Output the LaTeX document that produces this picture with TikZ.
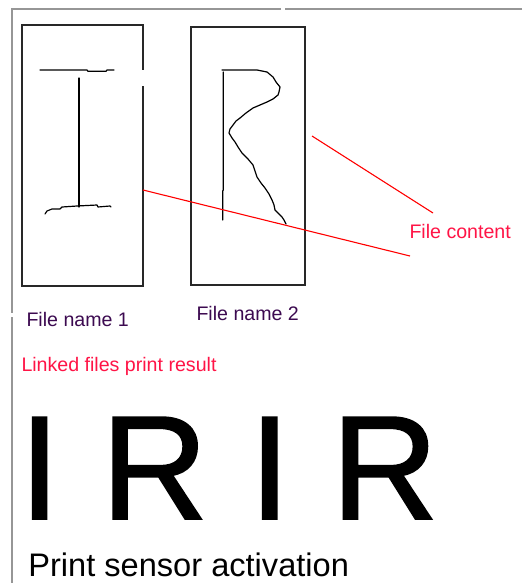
\documentclass[tikz,border=0pt]{standalone}
\usepackage{fontspec}
\setmainfont{Liberation Sans}
\newfontfamily\bigletters[FakeBold=1.2]{Liberation Sans}
\definecolor{framegray}{RGB}{150,150,150}
\definecolor{boxgray}{RGB}{40,40,40}
\definecolor{pinkred}{RGB}{255,20,70}
\definecolor{labelpurple}{RGB}{60,10,80}
\tikzset{
  frameline/.style={draw=framegray,line width=1.2pt},
  boxline/.style={draw=boxgray,line width=1.4pt},
  sketch/.style={draw=black,line width=1.2pt,line join=round,line cap=round},
  redline/.style={draw=red,line width=1.1pt},
  lbl/.style={inner sep=0pt,outer sep=0pt,anchor=base west,font=\fontsize{19.6}{22}\selectfont},
  filebox/.style={draw=none,inner sep=0pt,outer sep=0pt,anchor=north west}
}
\begin{document}
\begin{tikzpicture}[x=1pt,y=-1pt]
\useasboundingbox[fill=white] (0,0) rectangle (522,583);
% outer frame
\coordinate (fTL) at (12,9);
\coordinate (fTR) at (522,9);
\coordinate (fBL) at (12,583);
\draw[frameline] (fTR) -- (285,9);
\draw[frameline] (281,9) -- (fTL) -- (12,313);
\draw[frameline] (12,317) -- (fBL);
% boxes
\node[filebox,minimum width=121pt,minimum height=261pt] (box1) at (22,25) {};
\node[filebox,minimum width=114pt,minimum height=258pt] (box2) at (191,27) {};
\coordinate (g1a) at (143,70);
\coordinate (g1b) at (143,86);
\draw[boxline] (g1a) -- (box1.north east) -- (box1.north west) -- (box1.south west) -- (box1.south east) -- (g1b);
\draw[boxline] (box2.north west) rectangle (box2.south east);
% hand-drawn I
\draw[sketch] (40,70) -- (87,70) -- (88,71.3) -- (106,71.3) -- (107,70) -- (114,70);
\draw[sketch] (79,78) -- (79,207);
\draw[sketch] (45,214) -- (47,211) -- (52,209) -- (60,209) -- (62,207) -- (77,206) -- (97,205) -- (98,207) -- (110,206) -- (111,207);
% hand-drawn R
\draw[sketch] (223.3,72) -- (223.3,190) -- (222.7,191) -- (222.7,220);
\draw[sketch] (222,70) -- (257,70) -- (267,72) -- (273,77) -- (276,82) -- (280,87) -- (279,92) -- (278,95) -- (273,99) -- (267,102) -- (260,105) -- (253,108) -- (246,113) -- (240,118) -- (236,121) -- (233,125) -- (230,129) -- (229,133) -- (232,138) -- (235,142) -- (238,147) -- (242,153) -- (248,159) -- (253,165) -- (255,171) -- (257,177) -- (261,183) -- (265,188) -- (269,194) -- (272,200) -- (274,205) -- (275,210) -- (279,214) -- (282,217) -- (284,220) -- (286,224);
% red connectors
\coordinate (r1a) at (143,190);
\coordinate (r1b) at (410,256);
\coordinate (r2a) at (312,136);
\coordinate (r2b) at (433,213);
\draw[redline] (r1a) -- (r1b);
\draw[redline] (r2a) -- (r2b);
% labels
\node[lbl,text=pinkred] (content) at (409.5,238) {File content};
\node[lbl,text=labelpurple] (name1) at (26.5,326.5) {File name 1};
\node[lbl,text=labelpurple] (name2) at (196.5,320.5) {File name 2};
\node[lbl,text=pinkred] (linked) at (21.5,371.5) {Linked files print result};
\node[inner sep=0pt,outer sep=0pt,anchor=base west,font=\bigletters\fontsize{148}{150}\selectfont] (irir) at (19,519) {I R I R};
\node[inner sep=0pt,outer sep=0pt,anchor=base west,font=\fontsize{32.6}{36}\selectfont] (sensor) at (28.3,576) {Print sensor activation};
\end{tikzpicture}
\end{document}
